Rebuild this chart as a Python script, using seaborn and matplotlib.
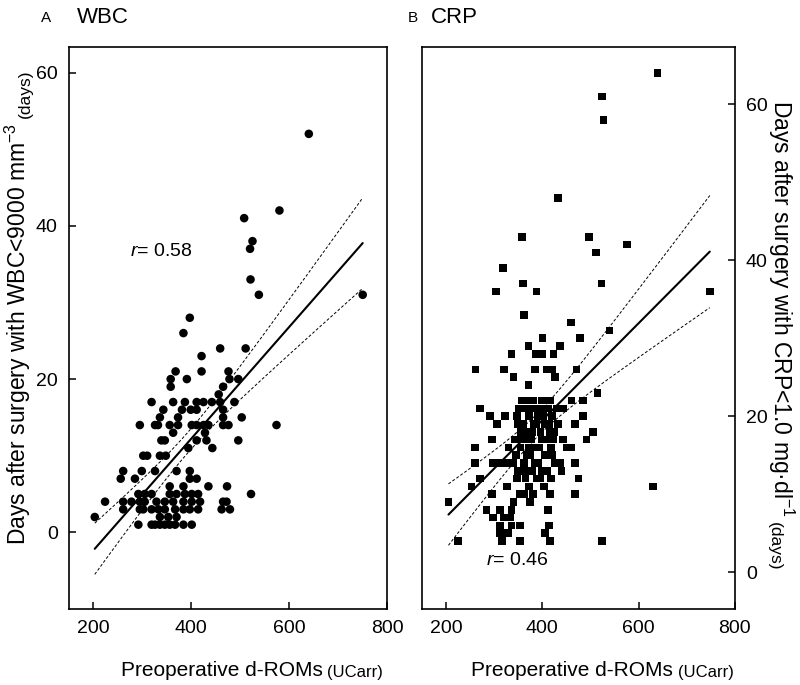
import numpy as np
import matplotlib
matplotlib.use("Agg")
import matplotlib.pyplot as plt
import seaborn as sns

# A: WBC panel (d-ROMs vs days until WBC < 9000)
wbc_rom = [640, 580, 508, 525, 520, 521, 538, 750, 397, 384, 459, 511, 421,
           368, 421, 476, 358, 391, 478, 496, 358, 465, 456,
           319, 363, 387, 411, 425, 442, 459, 488,
           343, 381, 399, 411, 465,
           336, 373, 465, 503,
           295, 326, 332, 356, 373, 401, 411, 425, 435, 465, 476, 574,
           363, 428,
           339, 346, 411, 431, 496,
           394, 443,
           302, 310, 336, 348,
           261, 299, 326, 370, 397,
           256, 285, 397, 411,
           356, 384, 435, 473,
           292, 305, 319, 356, 370, 387, 401, 414, 522,
           224, 261, 278, 295, 305, 329, 346, 363, 384, 401, 418, 465, 472,
           261, 295, 302, 319, 333, 346, 367, 384, 397, 414, 462, 479,
           203, 336, 353, 370,
           292, 319, 326, 336, 346, 356, 367, 384, 401]
wbc_days = [52, 42, 41, 38, 37, 33, 31, 31, 28, 26, 24, 24, 23,
            21, 21, 21, 20, 20, 20, 20, 19, 19, 18,
            17, 17, 17, 17, 17, 17, 17, 17,
            16, 16, 16, 16, 16,
            15, 15, 15, 15,
            14, 14, 14, 14, 14, 14, 14, 14, 14, 14, 14, 14,
            13, 13,
            12, 12, 12, 12, 12,
            11, 11,
            10, 10, 10, 10,
            8, 8, 8, 8, 8,
            7, 7, 7, 7,
            6, 6, 6, 6,
            5, 5, 5, 5, 5, 5, 5, 5, 5,
            4, 4, 4, 4, 4, 4, 4, 4, 4, 4, 4, 4, 4,
            3, 3, 3, 3, 3, 3, 3, 3, 3, 3, 3, 3,
            2, 2, 2, 2,
            1, 1, 1, 1, 1, 1, 1, 1, 1]

# B: CRP panel (d-ROMs vs days until CRP < 1.0)
crp_rom = [639, 524, 527, 432, 358, 497, 511, 576, 318, 360, 304, 388, 523, 748, 362,
           459, 400, 371, 437, 336, 387, 399, 423, 478, 261, 321, 385, 409, 421, 471,
           340, 426, 371,
           270, 357, 399, 291, 322, 306, 350, 443, 461, 485, 468, 485, 260, 295, 443,
           450, 461, 492, 260, 298, 312, 326, 437, 468, 270, 347, 371, 388, 440, 475,
           253, 326, 295, 354, 381, 416, 468, 205, 340, 374, 284, 312, 336, 412, 298,
           319, 333, 312, 336, 354, 414, 312, 329, 405, 225, 316, 354, 416,
           352, 365, 372, 360, 378, 390, 405, 415, 398, 385, 370, 355, 345, 362, 375,
           392, 405, 418, 410, 395, 380, 365, 350, 420, 412, 388, 375, 368, 382, 396,
           408, 420, 355, 343, 330, 340, 425, 430, 418, 403, 372, 362,
           540, 630, 524, 505, 515,
           347, 358, 367, 377, 384, 393, 401, 409, 414, 423, 427, 357, 371, 388, 399,
           363, 381, 416, 433, 395]
crp_days = [64, 61, 58, 48, 43, 43, 41, 42, 39, 37, 36, 36, 37, 36, 33,
            32, 30, 29, 29, 28, 28, 28, 28, 30, 26, 26, 26, 26, 26, 26,
            25, 25, 24,
            21, 22, 22, 20, 20, 19, 19, 21, 22, 22, 19, 20, 16, 17, 17,
            16, 16, 17, 14, 14, 14, 14, 14, 14, 12, 12, 13, 12, 13, 12,
            11, 11, 10, 10, 10, 10, 10, 9, 9, 9, 8, 8, 8, 8, 7,
            7, 7, 6, 6, 6, 6, 5, 5, 5, 4, 4, 4, 4,
            21, 22, 20, 19, 18, 20, 19, 18, 17, 16, 17, 16, 15, 14, 15,
            14, 15, 16, 13, 12, 13, 12, 13, 20, 21, 21, 21, 18, 19, 18,
            17, 15, 18, 17, 16, 14, 18, 21, 12, 11, 11, 10,
            31, 11, 4, 18, 23,
            20, 17, 15, 17, 14, 16, 20, 15, 19, 17, 14, 13, 16, 19, 13,
            21, 22, 22, 19, 21]

x_ticks = [200, 400, 600, 800]
y_ticks = [0, 20, 40, 60]

sns.set_style("ticks")
plt.rcParams["font.family"] = ["Liberation Sans", "DejaVu Sans"]
plt.rcParams["mathtext.fontset"] = "custom"
plt.rcParams["mathtext.rm"] = "Liberation Sans"
plt.rcParams["mathtext.it"] = "Liberation Sans:italic"
for key in ("text.color", "axes.labelcolor", "xtick.color", "ytick.color"):
    plt.rcParams[key] = "black"


def fit_with_ci(x, y):
    x = np.asarray(x, float)
    y = np.asarray(y, float)
    n = len(x)
    b, a = np.polyfit(x, y, 1)
    resid = y - (a + b * x)
    s = np.sqrt(np.sum(resid ** 2) / (n - 2))
    sxx = np.sum((x - x.mean()) ** 2)
    xs = np.linspace(x.min(), x.max(), 50)
    yfit = a + b * xs
    half = 1.97 * s * np.sqrt(1 / n + (xs - x.mean()) ** 2 / sxx)
    return xs, yfit, yfit - half, yfit + half


def draw_panel(ax, x, y, marker, size):
    sns.scatterplot(x=x, y=y, ax=ax, marker=marker, s=size, color="black",
                    edgecolor="none", linewidth=0, legend=False, zorder=3)
    xs, yfit, lo, hi = fit_with_ci(x, y)
    ax.plot(xs, yfit, color="black", lw=1.5, zorder=4)
    ax.plot(xs, lo, color="black", lw=0.7, ls=(0, (3, 2)), zorder=4)
    ax.plot(xs, hi, color="black", lw=0.7, ls=(0, (3, 2)), zorder=4)
    ax.set_xlim(150, 800)
    ax.set_xticks(x_ticks)
    ax.set_yticks(y_ticks)
    ax.set_xlabel("")
    ax.set_ylabel("")
    ax.tick_params(direction="in", length=5, width=1.1, labelsize=14, pad=8)
    for sp in ax.spines.values():
        sp.set_visible(True)
        sp.set_linewidth(1.2)
        sp.set_color("black")


fig = plt.figure(figsize=(8, 6.85), dpi=100)
ax_a = fig.add_axes([0.086, 0.111, 0.398, 0.820])
ax_b = fig.add_axes([0.5275, 0.111, 0.391, 0.820])

draw_panel(ax_a, wbc_rom, wbc_days, "o", 38)
ax_a.set_ylim(-10, 63.3)

draw_panel(ax_b, crp_rom, crp_days, "s", 30)
ax_b.set_ylim(-4.7, 67.3)
ax_b.yaxis.tick_right()
ax_b.tick_params(axis="y", direction="in", length=5, pad=8)

ax_a.text(338, 36.7, "$r$= 0.58", fontsize=14, ha="center", va="center")
ax_b.text(347, 1.5, "$r$= 0.46", fontsize=14, ha="center", va="center")

# panel letters and titles
fig.text(0.051, 0.974, "A", fontsize=11, va="center")
fig.text(0.096, 0.974, "WBC", fontsize=16, va="center")
fig.text(0.51, 0.974, "B", fontsize=11, va="center")
fig.text(0.539, 0.974, "CRP", fontsize=16, va="center")

# x labels: main text plus smaller unit
for ax in (ax_a, ax_b):
    pos = ax.get_position()
    cx = (pos.x0 + pos.x1) / 2 - 0.0075
    main = fig.text(cx, 0.013, "Preoperative d-ROMs", fontsize=15,
                    ha="center", va="baseline")
    ax.annotate("(UCarr)", xy=(1, 0), xycoords=main, xytext=(3, 0),
                textcoords="offset points", fontsize=12, ha="left", va="bottom")

# left y label
ylab_a = fig.text(0.022, 0.512, "Days after surgery with WBC<9000 mm$^{-3}$",
                  fontsize=16.5, rotation=90, ha="center", va="center")
ax_a.annotate("(days)", xy=(1, 1), xycoords=ylab_a, xytext=(0, 4),
              textcoords="offset points", fontsize=12.5, rotation=90,
              ha="right", va="bottom")

# right y label
ylab_b = fig.text(0.977, 0.55, "Days after surgery with CRP<1.0 mg\u00b7dl$^{-1}$",
                  fontsize=16.5, rotation=270, ha="center", va="center")
ax_b.annotate("(days)", xy=(0, 0), xycoords=ylab_b, xytext=(0, -4),
              textcoords="offset points", fontsize=12.5, rotation=270,
              ha="left", va="top")

fig.savefig("out.png", dpi=100)
